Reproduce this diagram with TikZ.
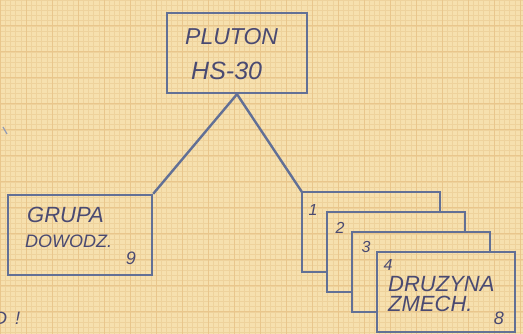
\documentclass[tikz,border=0pt]{standalone}
\usepackage{fontspec}
\usepackage{tikz}
\usetikzlibrary{positioning}
\newfontfamily\handfont{Liberation Sans}
\definecolor{paper}{RGB}{246,224,174}
\definecolor{gridminor}{RGB}{238,210,156}
\definecolor{gridmajor}{RGB}{233,198,140}
\definecolor{ink}{RGB}{98,112,150}
\definecolor{pen}{RGB}{74,74,114}
\tikzstyle{box} = [rectangle, draw=ink, line width=2.4pt, minimum width=140pt, minimum height=80pt, inner sep=0pt]
\tikzstyle{card} = [rectangle, minimum width=138pt, minimum height=80pt, inner sep=0pt]
\tikzstyle{wire} = [draw=ink, line width=2.4pt]
\tikzstyle{hand} = [text=pen, inner sep=0pt, font=\handfont\itshape\fontsize{22}{22}\selectfont]
\tikzstyle{bighand} = [hand, font=\handfont\itshape\fontsize{23}{23}\selectfont]
\tikzstyle{smallhand} = [hand, font=\handfont\itshape\fontsize{18}{18}\selectfont]
\tikzstyle{num} = [hand, font=\handfont\itshape\fontsize{18}{18}\selectfont]
\tikzstyle{cardnum} = [hand, font=\handfont\itshape\fontsize{16}{16}\selectfont]

\begin{document}
\begin{tikzpicture}[x=1pt, y=-1pt]

% Graph paper
\useasboundingbox (0,0) rectangle (523,334);
\fill[paper] (0,0) rectangle (523,334);
\foreach \gx in {0,...,101} \draw[gridminor, line width=0.6pt] (\gx*5.2,0) -- (\gx*5.2,334);
\foreach \gy in {0,...,64} \draw[gridminor, line width=0.6pt] (0,\gy*5.2) -- (523,\gy*5.2);
\foreach \gx in {0,...,20} \draw[gridmajor, line width=1pt] (\gx*26,0) -- (\gx*26,334);
\foreach \gy in {0,...,12} \draw[gridmajor, line width=1pt] (0,\gy*26) -- (523,\gy*26);
% stray pen marks
\draw[ink!70, line width=1.2pt] (3,127) -- (7,134);
\node[smallhand, anchor=base west] (note) at (-6,324) {D\hspace{8pt}!};

% Boxes
\node[box] (pluton) at (237,53) {};
\node[box, minimum width=144pt] (grupa) at (80,235) {};
% Stacked squads, back to front
\node[card] (card1) at (371,232) {};
\node[card] (card2) at (396,252) {};
\node[card] (card3) at (421,272) {};
\node[card, draw=ink, line width=2.4pt] (card4) at (446,292) {};
\draw[wire] (card1.east |- card2.north) -- (card1.north east) -- (card1.north west) -- (card1.south west) -- (card1.south west -| card2.west);
\draw[wire] (card2.east |- card3.north) -- (card2.north east) -- (card2.north west) -- (card2.south west) -- (card2.south west -| card3.west);
\draw[wire] (card3.east |- card4.north) -- (card3.north east) -- (card3.north west) -- (card3.south west) -- (card3.south west -| card4.west);

% Connectors
\draw[wire] (pluton.south) -- (grupa.north east);
\draw[wire] (pluton.south) -- (card1.north west);

% Labels
\node[bighand, anchor=base west] (plutontxt) at (185,45) {PLUTON};
\node[hand, font=\handfont\itshape\fontsize{25}{25}\selectfont, anchor=base west] (hstxt) at (191,80) {HS-30};
\node[hand, anchor=base west] (grupatxt) at (27,223) {GRUPA};
\node[smallhand, anchor=base west] (dowodztxt) at (25,248) {DOWODZ.};
\node[num] (grupanum) at (131,258) {9};
\node[cardnum] (num1) at (313,210) {1};
\node[cardnum] (num2) at (340,228) {2};
\node[cardnum] (num3) at (366,247) {3};
\node[cardnum] (num4) at (388,265) {4};
\node[hand, anchor=base west] (druzynatxt) at (388,292) {DRUZYNA};
\node[hand, anchor=base west] (zmechtxt) at (388,312) {ZMECH.};
\node[num] (druzynanum) at (499,318) {8};
\end{tikzpicture}
\end{document}
